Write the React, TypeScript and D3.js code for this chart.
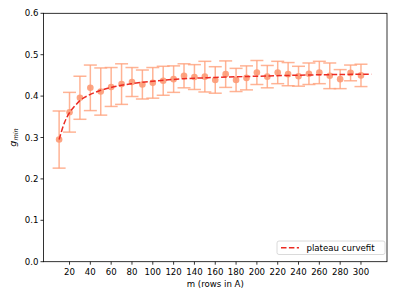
import React from 'react';
import * as d3 from 'd3';

// measured points (m, g_min mean, error half-width)
const mValues = [10, 20, 30, 40, 50, 60, 70, 80, 90, 100, 110, 120, 130, 140, 150, 160, 170, 180, 190, 200, 210, 220, 230, 240, 250, 260, 270, 280, 290, 300];
const gMin = [0.295, 0.361, 0.396, 0.420, 0.411, 0.422, 0.429, 0.434, 0.428, 0.432, 0.437, 0.441, 0.449, 0.446, 0.447, 0.439, 0.453, 0.439, 0.444, 0.457, 0.447, 0.457, 0.453, 0.448, 0.454, 0.457, 0.449, 0.441, 0.456, 0.450];
const gErr = [0.069, 0.048, 0.052, 0.055, 0.057, 0.047, 0.049, 0.035, 0.035, 0.037, 0.035, 0.032, 0.029, 0.030, 0.037, 0.032, 0.032, 0.028, 0.029, 0.029, 0.027, 0.027, 0.028, 0.024, 0.026, 0.027, 0.031, 0.023, 0.019, 0.027];

// plateau curvefit
const fitX = [10, 15, 20, 25, 30, 40, 50, 60, 80, 100, 130, 160, 200, 250, 310];
const fitY = [0.295, 0.335, 0.360, 0.376, 0.389, 0.404, 0.414, 0.421, 0.430, 0.436, 0.442, 0.445, 0.448, 0.451, 0.453];

const xTicks = [20, 40, 60, 80, 100, 120, 140, 160, 180, 200, 220, 240, 260, 280, 300];
const yTicks = [0, 0.1, 0.2, 0.3, 0.4, 0.5, 0.6];

const W = 398;
const H = 300;
const left = 43.5, right = 387, top = 13.3, bottom = 261.7;
const font = 'DejaVu Sans, sans-serif';
const fs = 8.6;

export default function App() {
  const x = d3.scaleLinear().domain([-5, 325]).range([left, right]);
  const y = d3.scaleLinear().domain([0, 0.6]).range([bottom, top]);

  const fitLine = d3.line<number>()
    .x((_, i) => x(fitX[i]))
    .y(d => y(d))
    .curve(d3.curveMonotoneX);

  const barColor = '#ffa07a';
  const dotColor = '#fd9a75';
  const fitColor = '#ec2b22';

  return (
    <div style={{ position: 'absolute', left: 0, top: 0 }}>
      <svg width={W} height={H} style={{ display: 'block', background: '#fff' }}>
        {/* error bars */}
        <g stroke={barColor} strokeOpacity={0.8} strokeWidth={1.5} fill="none">
          {mValues.map((m, i) => {
            const cx = x(m);
            const y1 = y(gMin[i] + gErr[i]);
            const y2 = y(gMin[i] - gErr[i]);
            return (
              <g key={m}>
                <line x1={cx} x2={cx} y1={y1} y2={y2} />
                <line x1={cx - 6.5} x2={cx + 6.5} y1={y1} y2={y1} />
                <line x1={cx - 6.5} x2={cx + 6.5} y1={y2} y2={y2} />
              </g>
            );
          })}
        </g>
        {/* points */}
        <g fill={dotColor} fillOpacity={0.9}>
          {mValues.map((m, i) => (
            <circle key={m} cx={x(m)} cy={y(gMin[i])} r={3.3} />
          ))}
        </g>
        {/* fit */}
        <path d={fitLine(fitY) || ''} fill="none" stroke={fitColor} strokeWidth={1.5} strokeDasharray="5.5,2.4" />

        {/* spines */}
        <rect x={left} y={top} width={right - left} height={bottom - top} fill="none" stroke="#000" strokeWidth={0.8} />

        {/* x axis */}
        <g fontFamily={font} fontSize={fs} textAnchor="middle" fill="#000">
          {xTicks.map(t => (
            <g key={t}>
              <line x1={x(t)} x2={x(t)} y1={bottom} y2={bottom + 3} stroke="#000" strokeWidth={0.8} />
              <text x={x(t)} y={bottom + 13.5}>{t}</text>
            </g>
          ))}
          <text x={(left + right) / 2} y={bottom + 25}>m (rows in A)</text>
        </g>

        {/* y axis */}
        <g fontFamily={font} fontSize={fs} textAnchor="end" fill="#000">
          {yTicks.map(t => (
            <g key={t}>
              <line x1={left - 3} x2={left} y1={y(t)} y2={y(t)} stroke="#000" strokeWidth={0.8} />
              <text x={left - 5} y={y(t) + 3}>{t.toFixed(1)}</text>
            </g>
          ))}
        </g>
        <text transform={`translate(16,${(top + bottom) / 2}) rotate(-90)`} fontFamily={font} fontSize={9.5} fontStyle="italic" textAnchor="middle">
          g<tspan fontSize={6.5} dy={2}>min</tspan>
        </text>

        {/* legend */}
        <g>
          <rect x={277} y={241} width={108} height={13.5} rx={2} fill="#fff" fillOpacity={0.8} stroke="#d0d0d0" strokeWidth={0.8} />
          <line x1={281} x2={299} y1={247.7} y2={247.7} stroke={fitColor} strokeWidth={1.5} strokeDasharray="5.5,2.4" />
          <text x={306.5} y={250.8} fontFamily={font} fontSize={fs}>plateau curvefit</text>
        </g>
      </svg>
    </div>
  );
}
